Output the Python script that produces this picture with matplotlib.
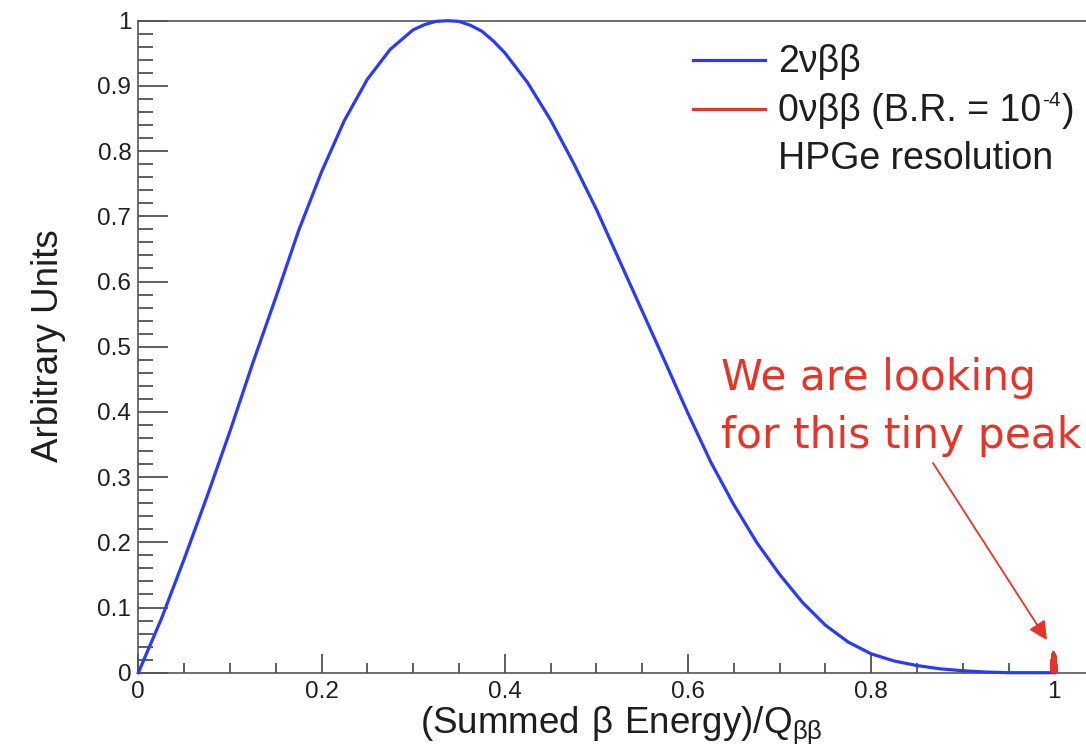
import matplotlib
matplotlib.use('Agg')
import matplotlib.pyplot as plt
from matplotlib.lines import Line2D
from matplotlib.ticker import MultipleLocator, FixedLocator, FixedFormatter

# Data
x_2nu = [0.0, 0.025, 0.05, 0.075, 0.1, 0.125, 0.15, 0.175, 0.2, 0.225,
         0.25, 0.275, 0.3, 0.3125, 0.325, 0.3375, 0.35, 0.3625, 0.375, 0.3875,
         0.4, 0.425, 0.45, 0.475, 0.5, 0.525, 0.55, 0.575, 0.6, 0.625,
         0.65, 0.675, 0.7, 0.725, 0.75, 0.775, 0.8, 0.825, 0.85, 0.875,
         0.9, 0.925, 0.95, 1.0]
y_2nu = [0.0, 0.082, 0.174, 0.270, 0.370, 0.475, 0.575, 0.678, 0.768, 0.847,
         0.910, 0.956, 0.986, 0.994, 0.999, 1.0, 0.999, 0.993, 0.984, 0.969,
         0.951, 0.905, 0.848, 0.782, 0.711, 0.633, 0.555, 0.477, 0.398, 0.323,
         0.258, 0.200, 0.151, 0.108, 0.073, 0.047, 0.029, 0.018, 0.011, 0.006,
         0.003, 0.001, 0.0, 0.0]

x_0nu = [0.996, 0.997, 0.998, 0.999, 1.000, 1.001, 1.002, 1.003]
y_0nu = [0.004, 0.020, 0.028, 0.031, 0.029, 0.026, 0.012, 0.002]

xtick_vals = [0, 0.2, 0.4, 0.6, 0.8, 1.0]
xtick_labels = ['0', '0.2', '0.4', '0.6', '0.8', '1']
ytick_vals = [0, 0.1, 0.2, 0.3, 0.4, 0.5, 0.6, 0.7, 0.8, 0.9, 1.0]
ytick_labels = ['0', '0.1', '0.2', '0.3', '0.4', '0.5', '0.6', '0.7', '0.8', '0.9', '1']

legend_labels = ['2νββ', '0νββ (B.R. = 10', 'HPGe resolution']
note_lines = ['We are looking', 'for this tiny peak']

BLUE = '#2b3af5'
RED = '#e5352b'
AXC = '#555555'
TXT = '#1e1e1e'

plt.rcParams['font.family'] = ['Liberation Sans', 'DejaVu Sans']
plt.rcParams['mathtext.fontset'] = 'custom'
plt.rcParams['mathtext.rm'] = 'Liberation Sans'

W, H = 1086, 756
fig = plt.figure(figsize=(W / 100, H / 100), dpi=100)

# axes: x=0 at 138 px, x=1 at 1054 px, y=0 at 673 px, y=1 at 21 px
x0, x1, y0, y1 = 138.3, 1054.3, 672.7, 20.7
xmax = 1.05
ax = fig.add_axes([x0 / W, (H - y0) / H, xmax * (x1 - x0) / W, (y0 - y1) / H])
ax.set_xlim(0, xmax)
ax.set_ylim(0, 1)

ax.plot(x_2nu, y_2nu, color=BLUE, lw=2.3, clip_on=False, zorder=3)
ax.fill_between(x_0nu, y_0nu, step='mid', color=RED, lw=0, zorder=4, clip_on=False)
ax.step(x_0nu, y_0nu, where='mid', color=RED, lw=1.5, zorder=4, clip_on=False)

for s in ['top', 'left', 'bottom']:
    ax.spines[s].set_color(AXC)
    ax.spines[s].set_linewidth(1.2)
ax.spines['right'].set_visible(False)

ax.xaxis.set_major_locator(FixedLocator(xtick_vals))
ax.xaxis.set_major_formatter(FixedFormatter(xtick_labels))
ax.xaxis.set_minor_locator(MultipleLocator(0.05))
ax.yaxis.set_major_locator(FixedLocator(ytick_vals))
ax.yaxis.set_major_formatter(FixedFormatter(ytick_labels))
ax.yaxis.set_minor_locator(MultipleLocator(0.02))

ax.tick_params(axis='x', which='major', direction='in', length=14, width=1.1,
               color='#333333', labelsize=17.5, pad=6, labelcolor=TXT)
ax.tick_params(axis='x', which='minor', direction='in', length=7, width=1.1, color='#333333')
ax.tick_params(axis='y', which='major', direction='in', length=21.5, width=1.1,
               color='#333333', labelsize=17.5, pad=5, labelcolor=TXT)
ax.tick_params(axis='y', which='minor', direction='in', length=11, width=1.1, color='#333333')

# axis titles
fig.text(621 / W, 1 - 733 / H, r'$\mathregular{(Summed\ β\ Energy)/Q_{ββ}}$',
         fontsize=26.5, ha='center', va='baseline', color=TXT)
fig.text(49 / W, 1 - 346 / H, 'Arbitrary Units', fontsize=26.5, rotation=90,
         ha='center', va='center', color=TXT)

# legend drawn by hand
leg_y = [60, 109, 157]
leg_col = [BLUE, RED, None]
leg_txt = []
for yy, col, lab in zip(leg_y, leg_col, legend_labels):
    if col is not None:
        fig.add_artist(Line2D([693 / W, 765 / W], [1 - yy / H, 1 - yy / H], color=col, lw=2.3))
    leg_txt.append(fig.text(778 / W, 1 - (yy + 12) / H, lab, fontsize=27, ha='left',
                            va='baseline', color=TXT))

# superscript -4 and closing bracket for the second entry
fig.canvas.draw()
r = fig.canvas.get_renderer()
bb = leg_txt[1].get_window_extent(r)
sup = fig.text((bb.x1 + 1) / W, 1 - (109 + 12 - 15) / H, '-4', fontsize=15,
               ha='left', va='baseline', color=TXT)
bb2 = sup.get_window_extent(r)
fig.text((bb2.x1 + 1) / W, 1 - (109 + 12) / H, ')', fontsize=27, ha='left',
         va='baseline', color=TXT)

# red annotation
for i, line in enumerate(note_lines):
    fig.text(721 / W, 1 - (390 + 58 * i) / H, line, fontsize=30.5, color=RED,
             family='DejaVu Sans', ha='left', va='baseline')
ax.annotate('', xy=(0.992, 0.05), xytext=(0.8676, 0.3216),
            arrowprops=dict(arrowstyle='-|>', color=RED, lw=1.3, mutation_scale=28,
                            shrinkA=0, shrinkB=0), annotation_clip=False)

fig.savefig('out.png', dpi=100)
